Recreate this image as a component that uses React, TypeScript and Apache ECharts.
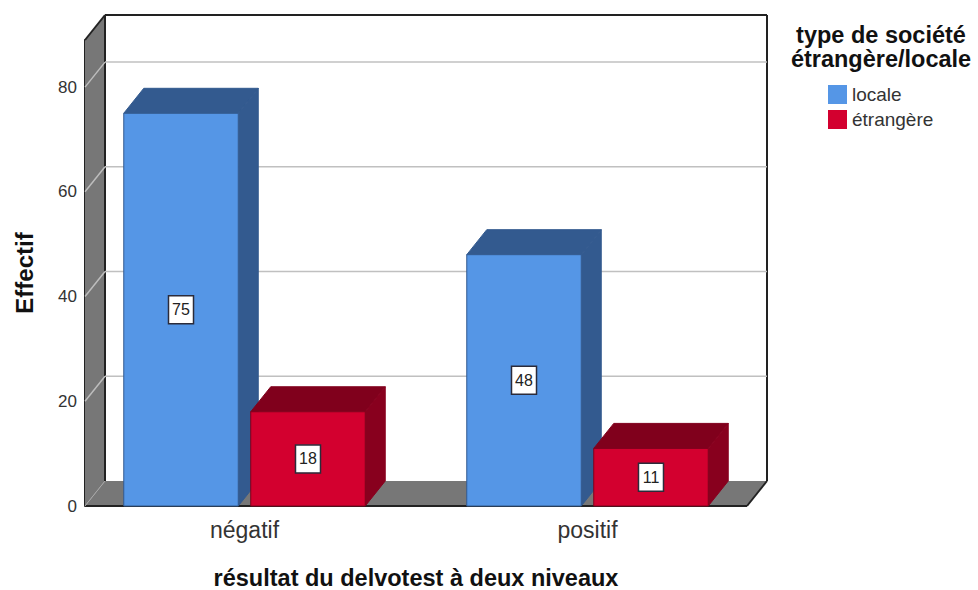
import React, { useEffect, useRef } from "react";
import * as echarts from "echarts";

const categories = ["négatif", "positif"];
const localeValues = [75, 48];
const etrangereValues = [18, 11];
const gridValues = [20, 40, 60, 80];
const legendNames = ["locale", "étrangère"];
const legendTitle = "type de société\nétrangère/locale";
const xTitle = "résultat du delvotest à deux niveaux";
const yTitle = "Effectif";

const FONT = '"Liberation Sans", Arial, sans-serif';
const DX = 20;
const DY = 25;
const INSET = 12;
const BAR_RATIO = 0.3338;
const OFFSET_RATIO = 0.1851;
const EDGE = "#222222";

function wallItem(params: any) {
  const c = params.coordSys;
  const l = c.x + INSET;
  const r = c.x + c.width - INSET;
  const t = c.y;
  const b = c.y + c.height;
  const line = (x1: number, y1: number, x2: number, y2: number, stroke = EDGE, w = 2) => ({
    type: "line",
    shape: { x1, y1, x2, y2 },
    style: { stroke, lineWidth: w },
  });
  return {
    type: "group",
    children: [
      { type: "polygon", shape: { points: [[l, b], [l + DX, b - DY], [l + DX, t - DY], [l, t]] }, style: { fill: "#777777" } },
      { type: "polygon", shape: { points: [[l, b], [r, b], [r + DX, b - DY], [l + DX, b - DY]] }, style: { fill: "#777777" } },
      line(l + DX, t - DY, r + DX, t - DY),
      line(r + DX, t - DY, r + DX, b - DY),
      line(l + DX, t - DY, l + DX, b - DY),
      line(l, t, l + DX, t - DY),
      line(l, b, r, b),
      line(r, b, r + DX, b - DY),
      line(l, b, l + DX, b - DY, "#a8a8a8", 1),
    ],
  };
}

function gridItem(params: any, api: any) {
  const c = params.coordSys;
  const l = c.x + INSET;
  const r = c.x + c.width - INSET;
  const y = api.coord([0, api.value(1)])[1];
  return {
    type: "group",
    children: [
      { type: "line", shape: { x1: l, y1: y, x2: l + DX, y2: y - DY }, style: { stroke: "#bdbdbd", lineWidth: 1.5 } },
      { type: "line", shape: { x1: l + DX, y1: y - DY, x2: r + DX, y2: y - DY }, style: { stroke: "#c0c0c0", lineWidth: 1.5 } },
    ],
  };
}

function barRenderer(front: string, top: string, side: string, sign: number) {
  return (_params: any, api: any) => {
    const band = api.size([1, 0])[0];
    const w = band * BAR_RATIO;
    const base = api.coord([api.value(0), 0]);
    const val = api.coord([api.value(0), api.value(1)]);
    const mid = api.coord([api.value(0), api.value(1) / 2]);
    const cx = base[0] + sign * band * OFFSET_RATIO;
    const l = cx - w / 2;
    const r = cx + w / 2;
    const t = val[1];
    const b = base[1];
    return {
      type: "group",
      children: [
        { type: "polygon", shape: { points: [[l, t], [r, t], [r + DX, t - DY], [l + DX, t - DY]] }, style: { fill: top, stroke: top, lineWidth: 1 } },
        { type: "polygon", shape: { points: [[r, t], [r + DX, t - DY], [r + DX, b - DY], [r, b]] }, style: { fill: side, stroke: side, lineWidth: 1 } },
        { type: "rect", shape: { x: l, y: t, width: w, height: b - t }, style: { fill: front, stroke: top, lineWidth: 1 } },
        { type: "rect", shape: { x: cx - 12.5, y: mid[1] - 14, width: 25, height: 28 }, style: { fill: "#ffffff", stroke: "#2b2b3a", lineWidth: 1.5 } },
        {
          type: "text",
          x: cx,
          y: mid[1],
          style: { text: String(api.value(1)), fill: "#222222", font: `16px ${FONT}`, align: "center", verticalAlign: "middle" },
        },
      ],
    };
  };
}

export default function App() {
  const ref = useRef<HTMLDivElement>(null);
  useEffect(() => {
    if (!ref.current) return;
    const chart = echarts.init(ref.current, undefined, { renderer: "svg" });
    chart.setOption({
      animation: false,
      backgroundColor: "#ffffff",
      title: {
        text: legendTitle,
        left: 881,
        top: 23,
        padding: 0,
        textAlign: "center",
        textStyle: { fontFamily: FONT, fontSize: 23.5, fontWeight: "bold", color: "#111111", lineHeight: 24 },
      },
      legend: {
        data: legendNames,
        orient: "vertical",
        left: 828,
        top: 85,
        padding: 0,
        itemWidth: 19,
        itemHeight: 19,
        itemGap: 6,
        icon: "rect",
        textStyle: { fontFamily: FONT, fontSize: 19, color: "#333333", padding: [3, 0, 0, 0] },
      },
      grid: { left: 73, right: 219, top: 40, bottom: 84, outerBoundsMode: "none" },
      xAxis: {
        type: "category",
        data: categories,
        name: xTitle,
        nameLocation: "middle",
        nameGap: 62,
        nameTextStyle: { fontFamily: FONT, fontSize: 23.5, fontWeight: "bold", color: "#111111", lineHeight: 20 },
        axisLine: { show: false },
        axisTick: { show: false },
        axisLabel: { fontFamily: FONT, fontSize: 23, color: "#333333", margin: 12 },
      },
      yAxis: {
        type: "value",
        min: 0,
        max: 89,
        interval: 20,
        offset: -12,
        name: yTitle,
        nameLocation: "middle",
        nameGap: 49,
        nameTextStyle: { fontFamily: FONT, fontSize: 24, fontWeight: "bold", color: "#111111" },
        axisLine: { show: true, lineStyle: { color: EDGE, width: 2 } },
        axisTick: { show: false },
        splitLine: { show: false },
        axisLabel: { fontFamily: FONT, fontSize: 17, color: "#333333", margin: 8, showMaxLabel: false },
      },
      series: [
        { type: "custom", silent: true, z: 1, renderItem: wallItem, data: [[0, 0]], encode: { x: 0, y: 1 } },
        { type: "custom", silent: true, z: 2, renderItem: gridItem, data: gridValues.map((v) => [0, v]), encode: { x: 0, y: 1 } },
        {
          type: "custom",
          name: legendNames[0],
          z: 3,
          itemStyle: { color: "#5596E6" },
          renderItem: barRenderer("#5596E6", "#335A8F", "#335A8F", -1),
          data: localeValues.map((v, i) => [i, v]),
          encode: { x: 0, y: 1 },
        },
        {
          type: "custom",
          name: legendNames[1],
          z: 4,
          itemStyle: { color: "#D3002F" },
          renderItem: barRenderer("#D3002F", "#80001C", "#88001E", 1),
          data: etrangereValues.map((v, i) => [i, v]),
          encode: { x: 0, y: 1 },
        },
      ],
    });
    return () => chart.dispose();
  }, []);
  return <div ref={ref} style={{ position: "absolute", left: 0, top: 0, width: 978, height: 590 }} />;
}
